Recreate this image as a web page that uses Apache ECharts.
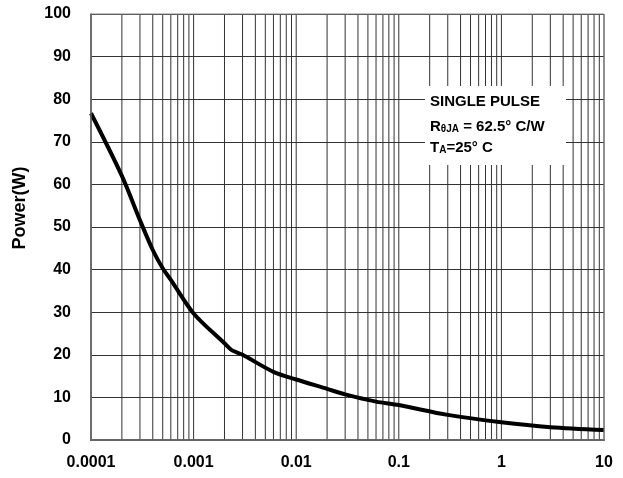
<!DOCTYPE html>
<html>
<head>
<meta charset="utf-8">
<script src="https://cdn.jsdelivr.net/npm/echarts@6/dist/echarts.min.js"></script>
<style>
  html, body { margin: 0; padding: 0; background: #fff; }
  #chart { width: 623px; height: 478px; }
</style>
</head>
<body>
<div id="chart"></div>
<script type="text/javascript">
  // pulse width (s) and peak power (W)
  var timeSec = [0.0001, 0.0002, 0.0003, 0.0004, 0.0005, 0.0006, 0.001, 0.002, 0.00235, 0.003, 0.006, 0.01, 0.02, 0.03, 0.06, 0.1, 0.3, 1, 3, 10];
  var powerW = [76.7, 62, 51.6, 44.6, 40.3, 37.6, 29.7, 22.7, 21.1, 20.0, 16.0, 14.2, 12.0, 10.7, 9.0, 8.2, 5.9, 4.15, 3.0, 2.35];

  var xTickLabels = ['0.0001', '0.001', '0.01', '0.1', '1', '10'];
  var decades = [0.0001, 0.001, 0.01, 0.1, 1];

  // vertical grid lines at 1..9 of every decade
  var gridX = [];
  decades.forEach(function (d) {
    for (var k = 1; k <= 9; k++) gridX.push(d * k);
  });
  gridX.push(10);

  var curve = timeSec.map(function (t, i) { return [t, powerW[i]]; });

  var chart = echarts.init(document.getElementById('chart'));
  var font = 'Arial, "Liberation Sans", sans-serif';

  // one short two-point line per grid value
  var gridSeries = gridX.map(function (v) {
    return {
      type: 'line',
      z: 1,
      silent: true,
      showSymbol: false,
      data: [[v, 0], [v, 100]],
      lineStyle: { color: '#333', width: 1 }
    };
  });

  var option = {
    animation: false,
    grid: { left: 91, right: 19, top: 14, bottom: 38 },
    xAxis: {
      type: 'log',
      logBase: 10,
      min: 0.0001,
      max: 10,
      axisLine: { show: true, onZero: false, lineStyle: { color: '#444', width: 2 } },
      axisTick: { show: false },
      splitLine: { show: false },
      axisLabel: {
        margin: 15,
        color: '#000',
        fontSize: 16,
        fontWeight: 'bold',
        fontFamily: font,
        formatter: function (v) {
          var i = Math.round(Math.log10(v)) + 4;
          return xTickLabels[i] || '';
        }
      }
    },
    yAxis: {
      type: 'value',
      min: 0,
      max: 100,
      interval: 10,
      axisLine: { show: true, lineStyle: { color: '#444', width: 1.5 } },
      axisTick: { show: false },
      splitLine: { show: true, lineStyle: { color: '#333', width: 1 } },
      axisLabel: {
        margin: 20,
        color: '#000',
        fontSize: 16,
        fontWeight: 'bold',
        fontFamily: font
      }
    },
    graphic: [
      {
        type: 'rect',
        z: 100,
        shape: { x: 91, y: 14, width: 513, height: 426 },
        style: { fill: 'none', stroke: '#888', lineWidth: 1 }
      },
      {
        type: 'text',
        z: 100,
        x: 20,
        y: 208,
        rotation: Math.PI / 2,
        style: {
          text: 'Power(W)',
          fill: '#000',
          font: 'bold 18px ' + font,
          align: 'center',
          verticalAlign: 'middle'
        }
      },
      {
        type: 'rect',
        z: 100,
        shape: { x: 425, y: 86, width: 141, height: 79 },
        style: { fill: '#fff' }
      },
      {
        type: 'text',
        z: 101,
        x: 430,
        y: 94,
        style: {
          text: 'SINGLE PULSE',
          fill: '#000',
          font: 'bold 15px ' + font
        }
      },
      {
        type: 'text',
        z: 101,
        x: 430,
        y: 116,
        style: {
          text: '{a|R}{s|θJA}{a| = 62.5° C/W}',
          rich: {
            a: { fill: '#000', font: 'bold 15px ' + font, verticalAlign: 'bottom', lineHeight: 18 },
            s: { fill: '#000', font: 'bold 10px ' + font, verticalAlign: 'bottom', lineHeight: 18 }
          }
        }
      },
      {
        type: 'text',
        z: 101,
        x: 430,
        y: 137,
        style: {
          text: '{a|T}{s|A}{a|=25° C}',
          rich: {
            a: { fill: '#000', font: 'bold 15px ' + font, verticalAlign: 'bottom', lineHeight: 18 },
            s: { fill: '#000', font: 'bold 10px ' + font, verticalAlign: 'bottom', lineHeight: 18 }
          }
        }
      }
    ],
    series: gridSeries.concat([
      {
        name: 'Power',
        type: 'line',
        z: 5,
        data: curve,
        smooth: 0.3,
        showSymbol: false,
        lineStyle: { color: '#000', width: 4 }
      }
    ])
  };

  chart.setOption(option);
</script>
</body>
</html>
